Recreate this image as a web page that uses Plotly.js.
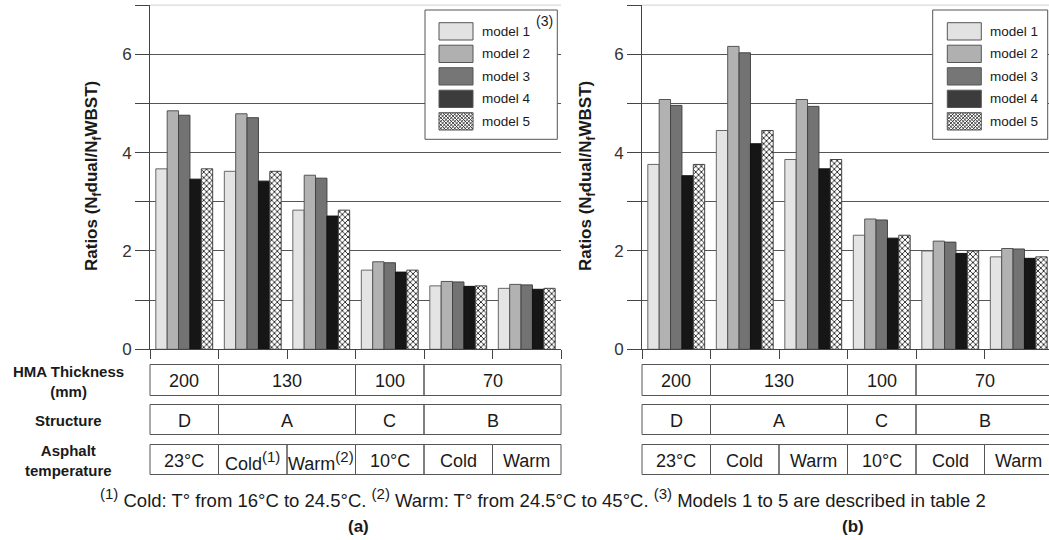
<!DOCTYPE html>
<html><head><meta charset="utf-8">
<script src="https://cdn.plot.ly/plotly-3.0.1.min.js"></script>
<style>body{margin:0;background:#fff}#chart{width:1049px;height:540px}</style>
</head><body><div id="chart"></div>
<script>
// ---------- data ----------
const categories = ['200 D 23°C','130 A Cold','130 A Warm','100 C 10°C','70 B Cold','70 B Warm'];
const modelNames = ['model 1','model 2','model 3','model 4','model 5'];
const a_model1 = [3.67,3.62,2.83,1.61,1.29,1.24];
const a_model2 = [4.85,4.79,3.54,1.78,1.38,1.32];
const a_model3 = [4.76,4.71,3.48,1.76,1.37,1.31];
const a_model4 = [3.46,3.42,2.71,1.57,1.28,1.22];
const a_model5 = [3.67,3.62,2.83,1.61,1.29,1.24];
const b_model1 = [3.76,4.45,3.86,2.32,2.00,1.88];
const b_model2 = [5.08,6.16,5.08,2.65,2.20,2.05];
const b_model3 = [4.96,6.03,4.94,2.63,2.18,2.04];
const b_model4 = [3.53,4.18,3.67,2.26,1.95,1.85];
const b_model5 = [3.76,4.45,3.86,2.32,2.00,1.88];
const yTickVals = [0,2,4,6];
const yTickText = ['0','2','4','6'];
const thicknessLabels = ['200','130','100','70'];
const thicknessSpans = [1,2,1,2];
const structureLabels = ['D','A','C','B'];
const structureSpans = [1,2,1,2];
const SUP = t => `<sup><span style="font-size:15px">${t}</span></sup>`;
const tempLabelsA = ['23°C','Cold' + SUP('(1)'),'Warm' + SUP('(2)'),'10°C','Cold','Warm'];
const tempLabelsB = ['23°C','Cold','Warm','10°C','Cold','Warm'];
const tempSpans = [1,1,1,1,1,1];
const rowLabels = ['<b>HMA Thickness</b><br><b>(mm)</b>','<b>Structure</b>','<b>Asphalt</b><br><b>temperature</b>'];
const yTitle = '<b>Ratios (N<sub>f</sub>dual/N<sub>f</sub>WBST)</b>';
const footnote = SUP('(1)') + ' Cold: T° from 16°C to 24.5°C. ' + SUP('(2)') + ' Warm: T° from 24.5°C to 45°C. ' + SUP('(3)') + ' Models 1 to 5 are described in table 2';
const panelLabels = ['<b>(a)</b>','<b>(b)</b>'];

// ---------- styling ----------
const W = 1049, H = 540;
const FONT = 'Liberation Sans, Arial, Helvetica, sans-serif';
const barFills = ['#e4e4e4','#b2b2b2','#737373','#161616','#ffffff'];
const barLines = ['#666','#555','#444','#111','#444'];
const legendFills = ['#e2e2e2','#b0b0b0','#767676','#3c3c3c',null];
const px = v => v / W;
const py = v => 1 - v / H;

const domA = [px(150), px(561)];
const domB = [px(642), 1];
const catW = 411 / 6;
const rangeA = [-0.5, 5.5];
const rangeB = [-0.5, -0.5 + (W - 642) / catW];
const yDom = [py(349.3), py(5.1)];
const catToPaper = (dom, rng, v) => dom[0] + (v - rng[0]) / (rng[1] - rng[0]) * (dom[1] - dom[0]);

const seriesA = [a_model1,a_model2,a_model3,a_model4,a_model5];
const seriesB = [b_model1,b_model2,b_model3,b_model4,b_model5];

const traces = [];
function addBars(series, xa, ya) {
  series.forEach((vals, i) => {
    const m = {color: barFills[i], line: {color: barLines[i], width: 1}};
    if (i === 4) m.pattern = {shape: 'x', size: 4, solidity: 0.4, fgcolor: '#222', bgcolor: '#ffffff', fillmode: 'replace'};
    traces.push({type: 'bar', name: modelNames[i], x: categories, y: vals, xaxis: xa, yaxis: ya, marker: m, showlegend: false, hoverinfo: 'skip'});
  });
}
addBars(seriesA, 'x', 'y');
addBars(seriesB, 'x2', 'y2');

const shapes = [], annotations = [];

// top faint border lines
[domA, domB].forEach(d => shapes.push({type:'line', xref:'paper', yref:'paper', x0:d[0], x1:d[1], y0:yDom[1], y1:yDom[1], line:{color:'#d0d0d0', width:1}}));

// table rows
function addRow(dom, rng, labels, spans, yTop, yBot) {
  let start = 0;
  labels.forEach((lab, i) => {
    const x0 = catToPaper(dom, rng, start - 0.5);
    const x1 = catToPaper(dom, rng, start + spans[i] - 0.5);
    shapes.push({type:'rect', xref:'paper', yref:'paper', x0, x1, y0: py(yBot), y1: py(yTop), line:{color:'#555', width:1}, fillcolor:'rgba(0,0,0,0)'});
    annotations.push({xref:'paper', yref:'paper', x:(x0 + x1) / 2, y: py((yTop + yBot) / 2 + 1), text: lab, showarrow:false, xanchor:'center', yanchor:'middle', font:{family:FONT, size:18, color:'#1a1a1a'}});
    start += spans[i];
  });
}
const rowsY = [[364.5,395.5],[404.5,434.5],[444.5,474.5]];
[[domA, rangeA, tempLabelsA],[domB, rangeB, tempLabelsB]].forEach(([dom, r, temps]) => {
  addRow(dom, r, thicknessLabels, thicknessSpans, rowsY[0][0], rowsY[0][1]);
  addRow(dom, r, structureLabels, structureSpans, rowsY[1][0], rowsY[1][1]);
  addRow(dom, r, temps, tempSpans, rowsY[2][0], rowsY[2][1]);
});
rowLabels.forEach((t, i) => annotations.push({xref:'paper', yref:'paper', x:px(68), y:py((rowsY[i][0] + rowsY[i][1]) / 2 + 1), text:t, showarrow:false, xanchor:'center', yanchor:'middle', font:{family:FONT, size:15, color:'#1a1a1a'}}));

// y titles
[93, 587].forEach(x => annotations.push({xref:'paper', yref:'paper', x:px(x), y:py(176), text:yTitle, textangle:-90, showarrow:false, xanchor:'center', yanchor:'middle', font:{family:FONT, size:17, color:'#1a1a1a'}}));

// cross-hatch path inside a px rectangle (for the legend swatch of model 5)
function hatchPath(x0, y0, w, h, s) {
  let p = '';
  for (let c = -h; c <= w; c += s) {
    const v0 = Math.max(0, -c), v1 = Math.min(h, w - c);
    if (v1 > v0) p += `M${px(x0 + v0 + c)},${py(y0 + v0)}L${px(x0 + v1 + c)},${py(y0 + v1)}`;
  }
  for (let c = 0; c <= w + h; c += s) {
    const v0 = Math.max(0, c - w), v1 = Math.min(h, c);
    if (v1 > v0) p += `M${px(x0 + c - v0)},${py(y0 + v0)}L${px(x0 + c - v1)},${py(y0 + v1)}`;
  }
  return p;
}

// manual legends
function addLegend(boxX0, boxX1, swX) {
  shapes.push({type:'rect', xref:'paper', yref:'paper', x0:px(boxX0), x1:px(boxX1), y0:py(139.3), y1:py(10), line:{color:'#555', width:1}, fillcolor:'#ffffff', layer:'above'});
  modelNames.forEach((name, i) => {
    const top = 22.7 + i * 22.5, bot = top + 17.3;
    if (legendFills[i]) {
      shapes.push({type:'rect', xref:'paper', yref:'paper', x0:px(swX), x1:px(swX + 34), y0:py(bot), y1:py(top), line:{color:'#555', width:1}, fillcolor:legendFills[i], layer:'above'});
    } else {
      shapes.push({type:'path', xref:'paper', yref:'paper', path:hatchPath(swX, top, 34, 17.3, 3.5), line:{color:'#333', width:0.9}, layer:'above'});
      shapes.push({type:'rect', xref:'paper', yref:'paper', x0:px(swX), x1:px(swX + 34), y0:py(bot), y1:py(top), line:{color:'#555', width:1}, fillcolor:'rgba(0,0,0,0)', layer:'above'});
    }
    annotations.push({xref:'paper', yref:'paper', x:px(swX + 41), y:py((top + bot) / 2), text:name, showarrow:false, xanchor:'left', yanchor:'middle', font:{family:FONT, size:13.5, color:'#1a1a1a'}});
  });
}
addLegend(425, 557.3, 439);
addLegend(932.7, 1047.7, 947.3);
annotations.push({xref:'paper', yref:'paper', x:px(544), y:py(21), text:'(3)', showarrow:false, xanchor:'center', yanchor:'middle', font:{family:FONT, size:14, color:'#1a1a1a'}});

// footnote and panel labels
annotations.push({xref:'paper', yref:'paper', x:px(543), y:py(498), text:footnote, showarrow:false, xanchor:'center', yanchor:'middle', font:{family:FONT, size:18.5, color:'#1a1a1a'}});
annotations.push({xref:'paper', yref:'paper', x:px(358), y:py(526), text:panelLabels[0], showarrow:false, xanchor:'center', yanchor:'middle', font:{family:FONT, size:17, color:'#1a1a1a'}});
annotations.push({xref:'paper', yref:'paper', x:px(853), y:py(526), text:panelLabels[1], showarrow:false, xanchor:'center', yanchor:'middle', font:{family:FONT, size:17, color:'#1a1a1a'}});

const xCommon = {type:'category', showticklabels:false, showgrid:false, showline:true, linecolor:'#444', linewidth:1, ticks:'outside', tickson:'boundaries', ticklen:9, tickcolor:'#444', tickwidth:1, zeroline:false, fixedrange:true};
const yCommon = {range:[0,7], domain:yDom, tickmode:'array', tickvals:yTickVals, ticktext:yTickText, showgrid:true, gridcolor:'#555', gridwidth:1, showline:true, linecolor:'#444', linewidth:1, ticks:'outside', ticklen:14, tickcolor:'#444', tickwidth:1, zeroline:false, tickfont:{family:FONT, size:17, color:'#333'}, fixedrange:true,
  minor:{tickmode:'linear', tick0:0, dtick:1, ticks:'outside', ticklen:14, tickcolor:'#444', tickwidth:1, showgrid:true, gridcolor:'#555', gridwidth:1}};

const layout = {
  width: W, height: H,
  margin: {l:0, r:0, t:0, b:0},
  paper_bgcolor: '#ffffff', plot_bgcolor: '#ffffff',
  showlegend: false,
  barmode: 'group', bargap: 0.17, bargroupgap: 0,
  font: {family: FONT, color: '#1a1a1a'},
  xaxis: Object.assign({}, xCommon, {domain: domA, range: rangeA, anchor: 'y'}),
  xaxis2: Object.assign({}, xCommon, {domain: domB, range: rangeB, anchor: 'y2'}),
  yaxis: Object.assign({}, yCommon, {anchor: 'x'}),
  yaxis2: Object.assign({}, yCommon, {anchor: 'x2'}),
  shapes, annotations
};
Plotly.newPlot('chart', traces, layout, {staticPlot: true, displayModeBar: false});
</script></body></html>
